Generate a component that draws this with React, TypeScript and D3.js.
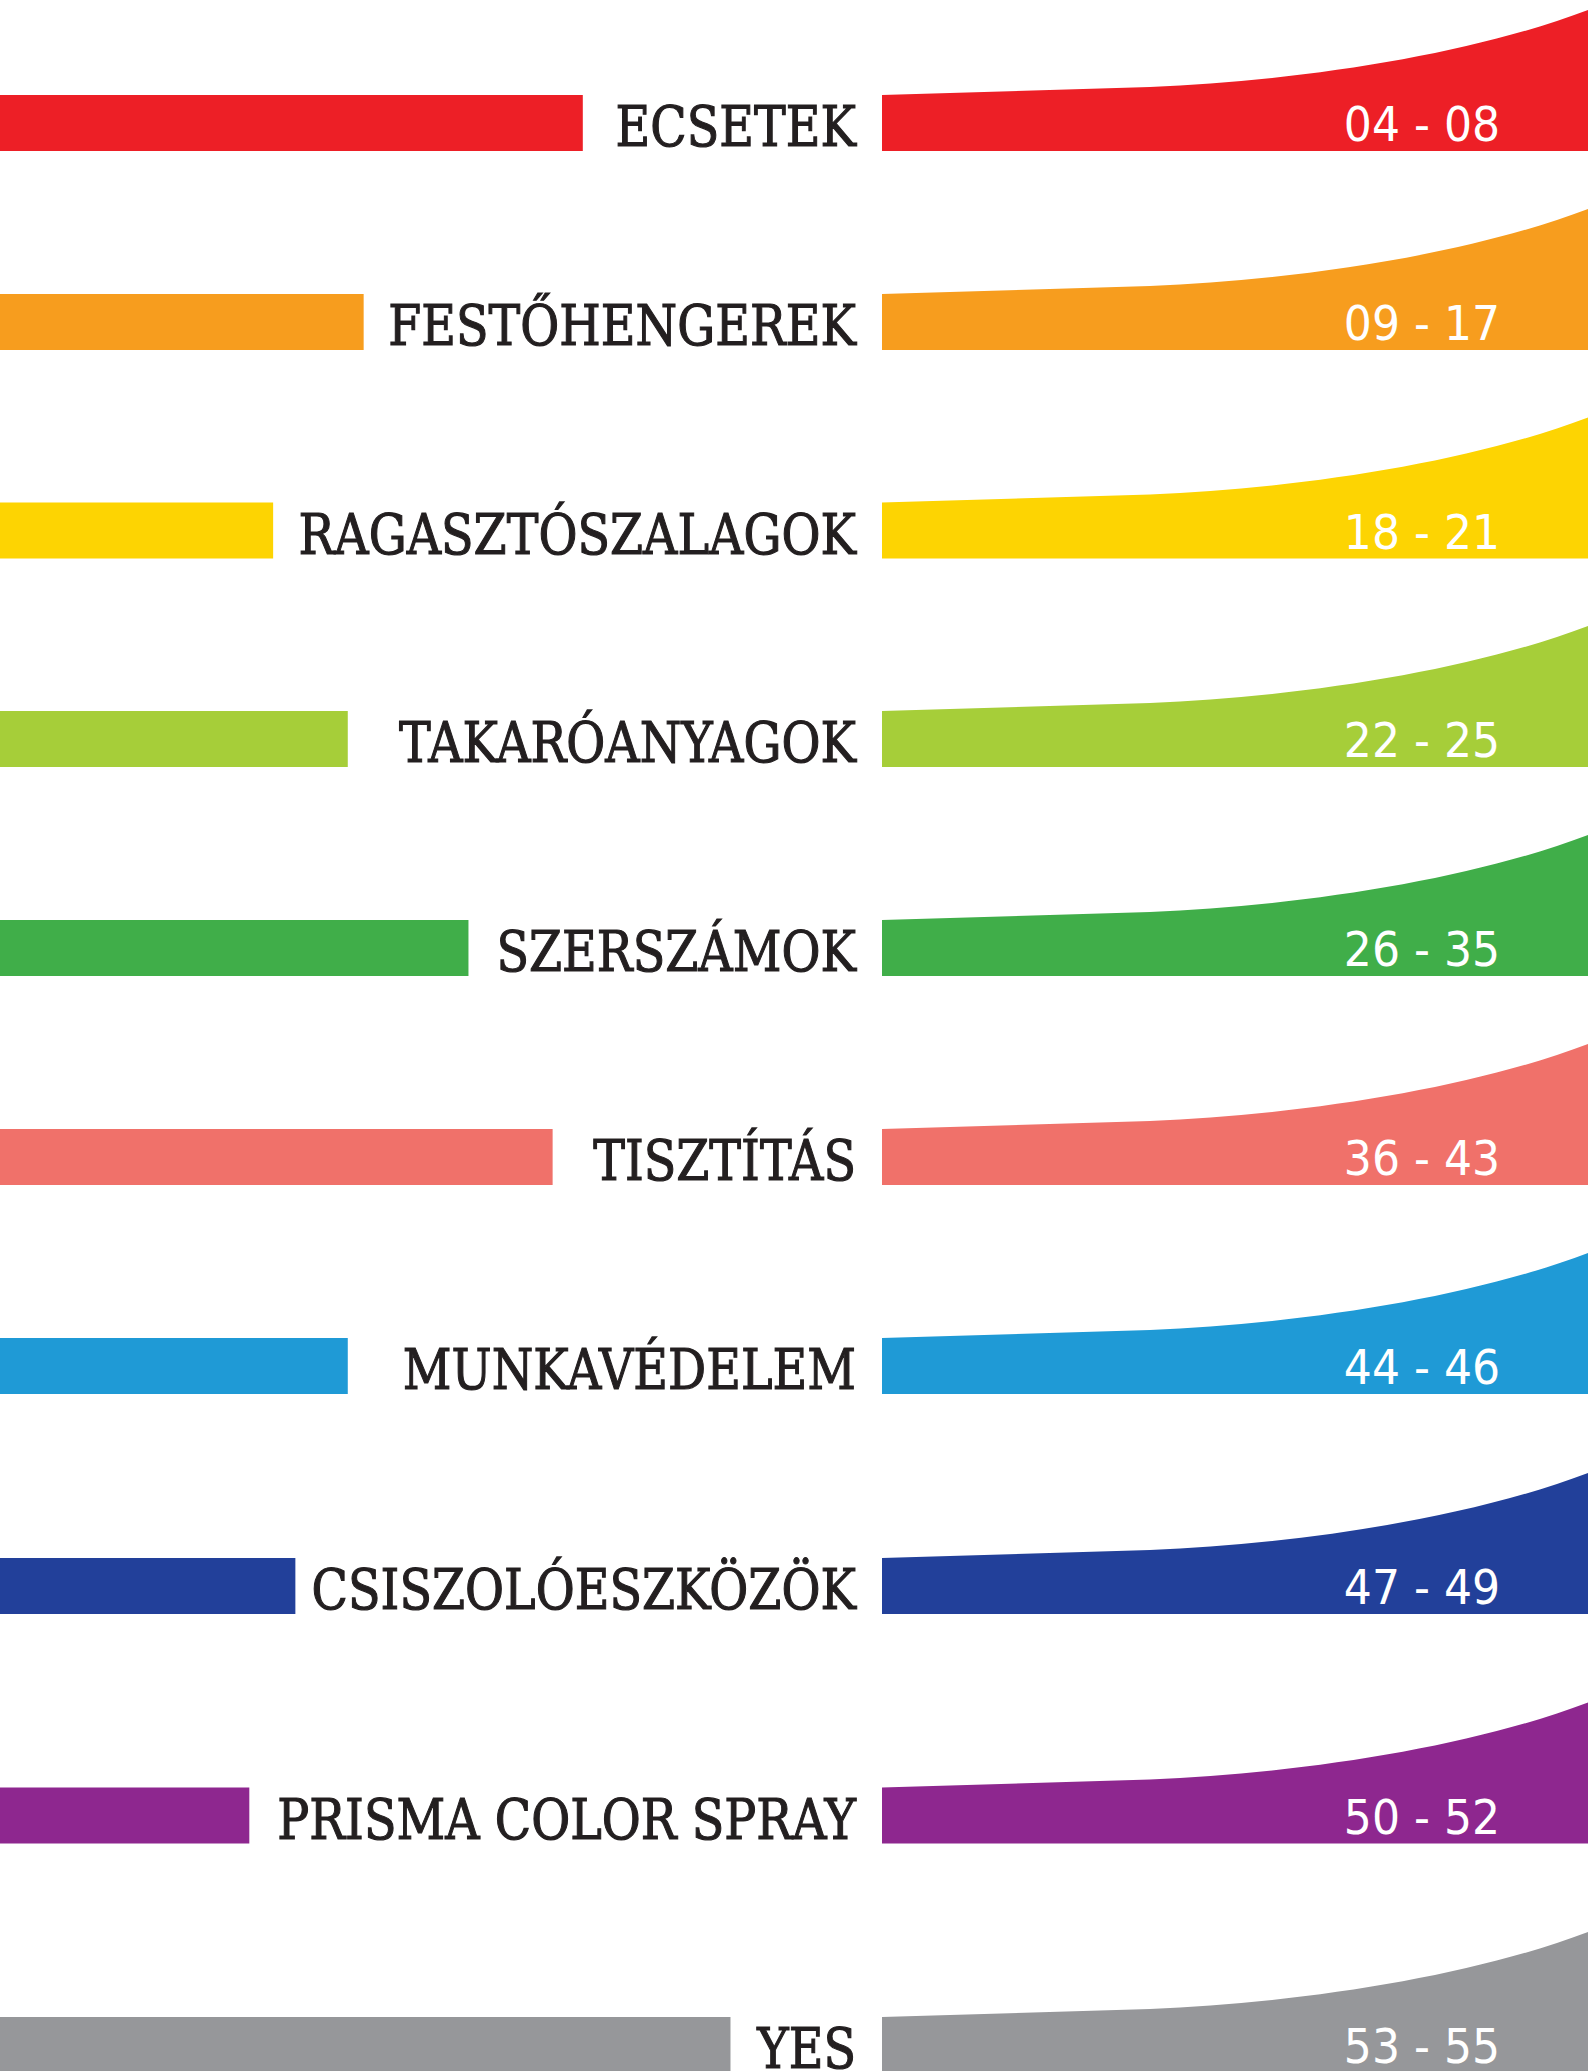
import * as d3 from "d3";
import React, { useRef, useEffect } from "react";

const width = 1588;
const height = 2071;

// chapter list, top to bottom
const categories = [
  "ECSETEK",
  "FESTŐHENGEREK",
  "RAGASZTÓSZALAGOK",
  "TAKARÓANYAGOK",
  "SZERSZÁMOK",
  "TISZTÍTÁS",
  "MUNKAVÉDELEM",
  "CSISZOLÓESZKÖZÖK",
  "PRISMA COLOR SPRAY",
  "YES",
];
const pageFrom = [4, 9, 18, 22, 26, 36, 44, 47, 50, 53];
const pageTo = [8, 17, 21, 25, 35, 43, 46, 49, 52, 55];
// left bar length, % of the page width
const leftBar = [36.7, 22.9, 17.2, 21.9, 29.5, 34.8, 21.9, 18.6, 15.7, 46.0];
const colors = [
  "#ed1f26",
  "#f79d1e",
  "#fdd402",
  "#a6ce39",
  "#40ae49",
  "#f0716a",
  "#1f9ad6",
  "#22409a",
  "#8e278f",
  "#96979a",
];

const barH = 56;
const labelRight = 856;
const shapeLeft = 882;
const numCenter = 1422;

const pad = d3.format("02d");

const App = () => {
  const svgRef = useRef<SVGSVGElement>(null);

  const data = categories.map((c, i) => ({
    name: c,
    range: `${pad(pageFrom[i])} - ${pad(pageTo[i])}`,
    bar: leftBar[i],
    color: colors[i],
    i,
  }));

  const xScale = d3.scaleLinear().domain([0, 100]).range([0, width]);
  // rows are not evenly spaced: the last three sit a bit further apart
  const yScale = d3
    .scaleLinear()
    .domain([0, 1, 3, 6, 7, 9])
    .range([95, 294, 711, 1338, 1558, 2017]);

  // flat lead-in, then the swoosh up to the right edge
  const shape = (top: number) => {
    const p = d3.path();
    const bottom = top + barH;
    p.moveTo(shapeLeft, bottom);
    p.lineTo(shapeLeft, top);
    p.lineTo(1150, top - 8);
    p.bezierCurveTo(1300, top - 14, 1470, top - 40, width, top - 85);
    p.lineTo(width, bottom);
    p.closePath();
    return p.toString();
  };

  useEffect(() => {
    const svg = d3.select(svgRef.current);
    const rows = svg
      .selectAll("g.row")
      .data(data)
      .join("g")
      .attr("class", "row");

    rows
      .selectAll("rect")
      .data((d) => [d])
      .join("rect")
      .attr("x", 0)
      .attr("y", (d) => yScale(d.i))
      .attr("width", (d) => xScale(d.bar))
      .attr("height", barH)
      .attr("fill", (d) => d.color);

    rows
      .selectAll("path")
      .data((d) => [d])
      .join("path")
      .attr("d", (d) => shape(yScale(d.i)))
      .attr("fill", (d) => d.color);

    rows
      .selectAll("text.label")
      .data((d) => [d])
      .join("text")
      .attr("class", "label")
      .attr(
        "transform",
        (d) => `translate(${labelRight},${yScale(d.i) + 51}) scale(0.85,1)`
      )
      .attr("text-anchor", "end")
      .style("font-family", "'DejaVu Serif'")
      .style("font-size", "56px")
      .attr("fill", "#231f20")
      .attr("stroke", "#231f20")
      .attr("stroke-width", 1.2)
      .text((d) => d.name);

    rows
      .selectAll("text.num")
      .data((d) => [d])
      .join("text")
      .attr("class", "num")
      .attr(
        "transform",
        (d) => `translate(${numCenter},${yScale(d.i) + 46}) scale(0.92,1)`
      )
      .attr("text-anchor", "middle")
      .style("font-family", "'DejaVu Sans'")
      .style("font-size", "48px")
      .attr("fill", "#ffffff")
      .text((d) => d.range);
  });

  return (
    <svg
      ref={svgRef}
      width={width}
      height={height}
      style={{ position: "absolute", left: 0, top: 0, background: "#fff" }}
    />
  );
};

export default App;
